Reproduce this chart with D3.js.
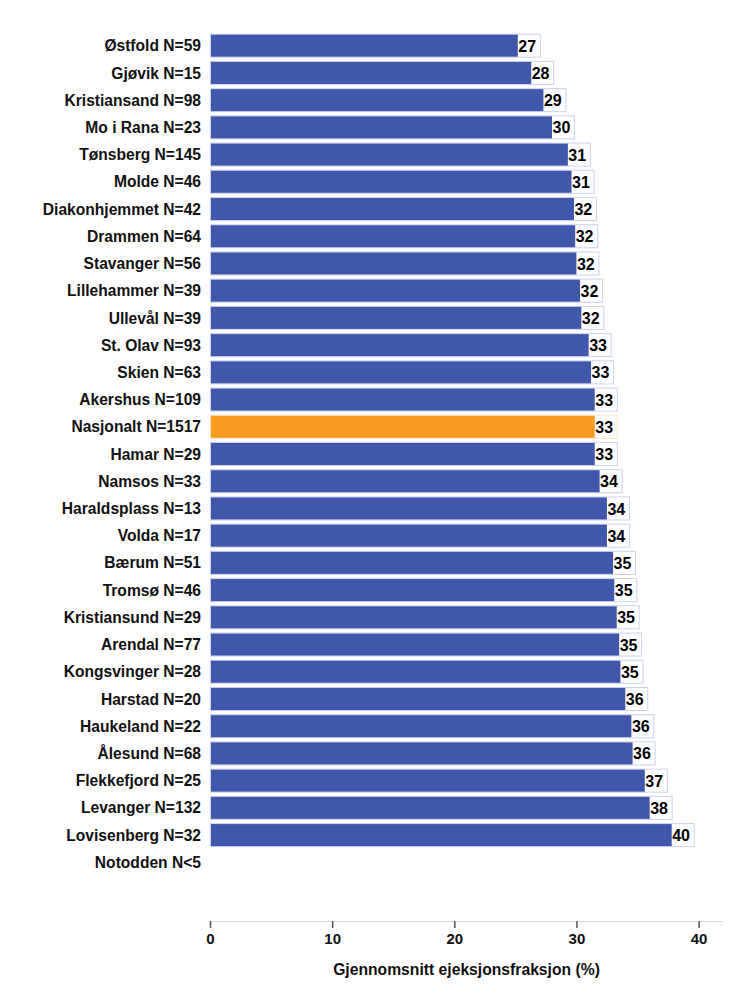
<!DOCTYPE html>
<html>
<head>
<meta charset="utf-8">
<script src="https://cdn.jsdelivr.net/npm/d3@7"></script>
<style>
  body { margin: 0; background: #fff; }
  svg text { font-family: "Liberation Sans", Arial, sans-serif; }
</style>
</head>
<body>
<svg id="chart" width="733" height="995"></svg>
<script>
// data
const units = ['Østfold', 'Gjøvik', 'Kristiansand', 'Mo i Rana', 'Tønsberg', 'Molde', 'Diakonhjemmet',
  'Drammen', 'Stavanger', 'Lillehammer', 'Ullevål', 'St. Olav', 'Skien', 'Akershus', 'Nasjonalt',
  'Hamar', 'Namsos', 'Haraldsplass', 'Volda', 'Bærum', 'Tromsø', 'Kristiansund', 'Arendal',
  'Kongsvinger', 'Harstad', 'Haukeland', 'Ålesund', 'Flekkefjord', 'Levanger', 'Lovisenberg', 'Notodden'];
const counts = ['59', '15', '98', '23', '145', '46', '42', '64', '56', '39', '39', '93', '63', '109', '1517',
  '29', '33', '13', '17', '51', '46', '29', '77', '28', '20', '22', '68', '25', '132', '32', '<5'];
const means = [27.0, 28.1, 29.1, 29.8, 31.1, 31.4, 31.6, 31.7, 31.8, 32.1, 32.2, 32.8, 33.0, 33.3, 33.3,
  33.3, 33.7, 34.3, 34.3, 34.8, 34.9, 35.1, 35.3, 35.4, 35.8, 36.3, 36.4, 37.4, 37.8, 39.6, null];
const xTicks = [0, 10, 20, 30, 40];

const rows = units.map((u, i) => ({
  unit: u,
  label: counts[i] == '<5' ? `${u} N<5` : `${u} N=${counts[i]}`,
  value: means[i]
}));

const svg = d3.select('#chart');

const x = d3.scaleLinear().domain([0, 42]).range([210, 723]);
const y = d3.scaleBand().domain(rows.map(d => d.label)).range([32.5, 875.5]).paddingInner(0.19).paddingOuter(0.08);

const labelW = 23;

// category labels
svg.selectAll('text.cat')
  .data(rows)
  .join('text')
  .attr('class', 'cat')
  .attr('x', 201)
  .attr('y', d => y(d.label) + y.bandwidth() / 2)
  .attr('dy', '0.36em')
  .attr('text-anchor', 'end')
  .style('font-size', '15.6px')
  .style('font-weight', 'bold')
  .style('fill', '#111')
  .text(d => d.label);

const withVal = rows.filter(d => d.value != null);

// outline box holding the value label
svg.selectAll('rect.box')
  .data(withVal)
  .join('rect')
  .attr('class', 'box')
  .attr('x', x(0) + 0.5)
  .attr('y', d => y(d.label) - 0.5)
  .attr('width', d => x(d.value) - x(0))
  .attr('height', y.bandwidth() + 1)
  .style('fill', '#fff')
  .style('stroke', d => d.unit == 'Nasjonalt' ? '#fbe3c4' : '#cbd2ec')
  .style('stroke-width', 1);

svg.selectAll('rect.bar')
  .data(withVal)
  .join('rect')
  .attr('class', 'bar')
  .attr('x', x(0) + 1)
  .attr('y', d => y(d.label))
  .attr('width', d => x(d.value) - x(0) - labelW)
  .attr('height', y.bandwidth())
  .style('fill', d => d.unit == 'Nasjonalt' ? '#f99b1f' : '#3f58ab');

svg.selectAll('text.val')
  .data(withVal)
  .join('text')
  .attr('class', 'val')
  .attr('x', d => x(d.value) - labelW + 1.5)
  .attr('y', d => y(d.label) + y.bandwidth() / 2)
  .attr('dy', '0.38em')
  .style('font-size', '16px')
  .style('font-weight', 'bold')
  .style('fill', '#000')
  .text(d => Math.round(d.value));

// x axis
const axisY = 921;
const xAxis = svg.append('g')
  .attr('transform', `translate(0,${axisY})`)
  .call(d3.axisBottom(x).tickValues(xTicks).tickSize(7).tickPadding(5).tickSizeOuter(0));
xAxis.select('.domain').style('stroke', '#d9d9d9');
xAxis.selectAll('.tick line').style('stroke', '#555').style('stroke-width', 1.5);
xAxis.selectAll('.tick text')
  .style('font-size', '15px')
  .style('font-weight', 'bold')
  .style('fill', '#111')
  .style('font-family', '"Liberation Sans", Arial, sans-serif');

svg.append('text')
  .attr('x', (x(0) + x(42)) / 2)
  .attr('y', 975)
  .attr('text-anchor', 'middle')
  .style('font-size', '15.7px')
  .style('font-weight', 'bold')
  .style('fill', '#111')
  .text('Gjennomsnitt ejeksjonsfraksjon (%)');
</script>
</body>
</html>
